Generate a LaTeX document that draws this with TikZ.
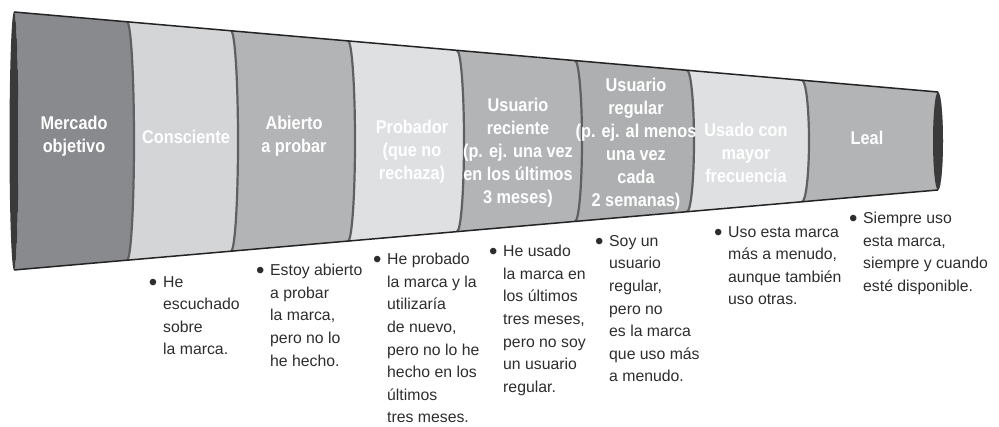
\documentclass[tikz,border=0pt]{standalone}
\usepackage{fontspec}
\setmainfont{Liberation Sans}
\newfontfamily\headfont{Liberation Sans}[FakeStretch=0.88]
\usetikzlibrary{positioning}
\definecolor{capdark}{RGB}{58,58,58}
\definecolor{rimgray}{RGB}{95,96,99}
\definecolor{edgeblack}{RGB}{35,35,35}
\definecolor{segdark}{RGB}{137,138,141}
\definecolor{seglight}{RGB}{212,213,215}
\definecolor{segmid}{RGB}{179,180,182}
\definecolor{segpale}{RGB}{223,224,226}
\definecolor{notegray}{RGB}{45,45,45}
\tikzset{
  stage/.style={text=white, align=center, inner sep=0pt,
    font=\headfont\bfseries\fontsize{18.5}{23}\selectfont},
  note/.style={text=notegray, align=left, anchor=north west, inner sep=0pt,
    font=\fontsize{15.8}{22.6}\selectfont},
  rim/.style={draw=rimgray, line width=2.2pt},
  edge/.style={draw=edgeblack, line width=1.5pt}
}
\newcommand{\bul}{\llap{\raisebox{-3pt}{\fontsize{24}{24}\selectfont\textbullet}\hspace{5.8pt}}}

\begin{document}
\begin{tikzpicture}[x=1pt, y=1pt]
  \useasboundingbox (0,0) rectangle (999,427);
  % funnel segments
  \fill[segdark] (14,415) -- (127,405.2) arc[start angle=90, end angle=-90, x radius=7, y radius=119.2]
    -- (14,157) arc[start angle=-90, end angle=90, x radius=4.5, y radius=129] -- cycle;
  \fill[seglight] (127,405.2) -- (231,396.2) arc[start angle=90, end angle=-90, x radius=7, y radius=110.2]
    -- (127,166.8) arc[start angle=-90, end angle=90, x radius=7, y radius=119.2] -- cycle;
  \fill[segmid] (231,396.2) -- (348,386.1) arc[start angle=90, end angle=-90, x radius=7, y radius=100.1]
    -- (231,175.8) arc[start angle=-90, end angle=90, x radius=7, y radius=110.2] -- cycle;
  \fill[segpale] (348,386.1) -- (457,376.6) arc[start angle=90, end angle=-90, x radius=7, y radius=90.6]
    -- (348,185.9) arc[start angle=-90, end angle=90, x radius=7, y radius=100.1] -- cycle;
  \fill[segmid] (457,376.6) -- (575,366.4) arc[start angle=90, end angle=-90, x radius=7, y radius=80.4]
    -- (457,195.4) arc[start angle=-90, end angle=90, x radius=7, y radius=90.6] -- cycle;
  \fill[segmid!97!black] (575,366.4) -- (687,356.7) arc[start angle=90, end angle=-90, x radius=7, y radius=70.7]
    -- (575,205.6) arc[start angle=-90, end angle=90, x radius=7, y radius=80.4] -- cycle;
  \fill[segpale] (687,356.7) -- (802,346.8) arc[start angle=90, end angle=-90, x radius=7, y radius=60.8]
    -- (687,215.3) arc[start angle=-90, end angle=90, x radius=7, y radius=70.7] -- cycle;
  \fill[segmid] (802,346.8) -- (938,335) arc[start angle=90, end angle=-90, x radius=5, y radius=49]
    -- (802,225.2) arc[start angle=-90, end angle=90, x radius=7, y radius=60.8] -- cycle;
  % rims between segments
  \draw[rim] (127,405.2) arc[start angle=90, end angle=-90, x radius=7, y radius=119.2];
  \draw[rim] (231,396.2) arc[start angle=90, end angle=-90, x radius=7, y radius=110.2];
  \draw[rim] (348,386.1) arc[start angle=90, end angle=-90, x radius=7, y radius=100.1];
  \draw[rim] (457,376.6) arc[start angle=90, end angle=-90, x radius=7, y radius=90.6];
  \draw[rim] (575,366.4) arc[start angle=90, end angle=-90, x radius=7, y radius=80.4];
  \draw[rim] (687,356.7) arc[start angle=90, end angle=-90, x radius=7, y radius=70.7];
  \draw[rim] (802,346.8) arc[start angle=90, end angle=-90, x radius=7, y radius=60.8];
  % ends and outline
  \fill[capdark] (14,286) ellipse[x radius=4.5, y radius=129];
  \fill[capdark] (938,286) ellipse[x radius=5, y radius=49];
  \draw[edge] (14,415) -- (938,335);
  \draw[edge] (14,157) -- (938,237);
  % stage names
  \node[stage] (mercado) at (74,291) {Mercado\\objetivo};
  \node[stage] (consciente) at (186,290) {Consciente};
  \node[stage] (abierto) at (294,291) {Abierto\\a probar};
  \node[stage] (probador) at (412,275) {Probador\\(que no\\rechaza)};
  \node[stage] (reciente) at (518,274) {Usuario\\reciente\\(p. ej. una vez\\en los últimos\\3 meses)};
  \node[stage] (regular) at (636,283) {Usuario\\regular\\(p. ej. al menos\\una vez\\cada\\2 semanas)};
  \node[stage] (frecuente) at (746,274) {Usado con\\mayor\\frecuencia};
  \node[stage] (leal) at (867,289) {Leal};
  % descriptions
  \node[note] (nota-consciente) at (163,151) {\bul He\\escuchado\\sobre\\la marca.};
  \node[note] (nota-abierto) at (270,163) {\bul Estoy abierto\\a probar\\la marca,\\pero no lo\\he hecho.};
  \node[note] (nota-probador) at (387,174) {\bul He probado\\la marca y la\\utilizaría\\de nuevo,\\pero no lo he\\hecho en los\\últimos\\tres meses.};
  \node[note] (nota-reciente) at (503,182) {\bul He usado\\la marca en\\los últimos\\tres meses,\\pero no soy\\un usuario\\regular.};
  \node[note] (nota-regular) at (609,192) {\bul Soy un\\usuario\\regular,\\pero no\\es la marca\\que uso más\\a menudo.};
  \node[note] (nota-frecuente) at (728,201) {\bul Uso esta marca\\más a menudo,\\aunque también\\uso otras.};
  \node[note] (nota-leal) at (863,215) {\bul Siempre uso\\esta marca,\\siempre y cuando\\esté disponible.};
\end{tikzpicture}
\end{document}
